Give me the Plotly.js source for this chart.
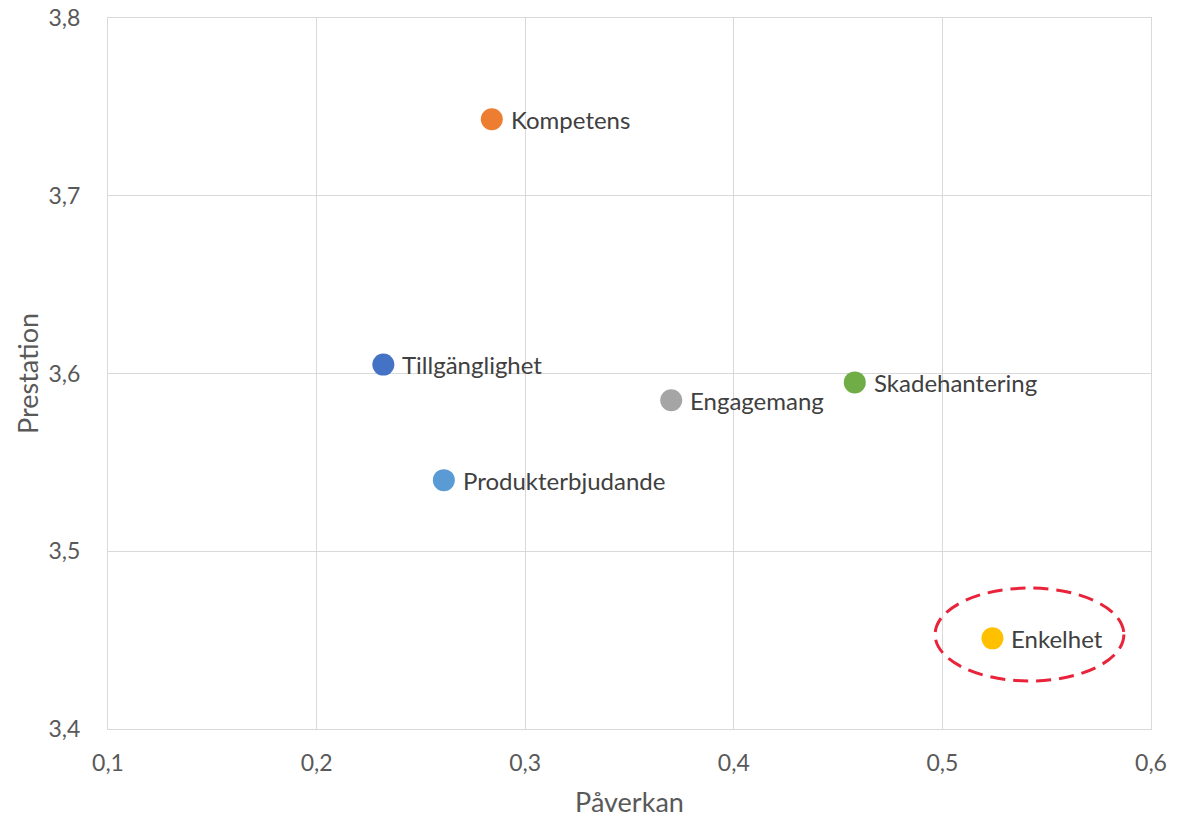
<!DOCTYPE html>
<html>
<head>
<meta charset="utf-8">
<script src="https://cdn.plot.ly/plotly-3.0.1.min.js"></script>
<style>html,body{margin:0;padding:0;background:#fff;}#chart{width:1184px;height:820px;}</style>
</head>
<body>
<div id="chart"></div>
<script>
const categories = ["Tillgänglighet", "Kompetens", "Engagemang", "Enkelhet", "Produkterbjudande", "Skadehantering"];
const paverkan = [0.232, 0.284, 0.370, 0.524, 0.261, 0.458];
const prestation = [3.605, 3.743, 3.585, 3.451, 3.540, 3.595];
const colors = ["#4472C4", "#ED7D31", "#A5A5A5", "#FFC000", "#5B9BD5", "#70AD47"];
const xTicks = [0.1, 0.2, 0.3, 0.4, 0.5, 0.6];
const yTicks = [3.4, 3.5, 3.6, 3.7, 3.8];
const highlightX = [0.4965, 0.587];
const highlightY = [3.427, 3.4793];

const fontFam = "Lato, 'Open Sans', 'Liberation Sans', sans-serif";

const trace = {
  type: "scatter",
  mode: "markers",
  x: paverkan,
  y: prestation,
  marker: {size: 22, color: colors},
  hoverinfo: "skip",
  cliponaxis: false
};

const labels = categories.map((c, i) => ({
  x: paverkan[i],
  y: prestation[i],
  xref: "x", yref: "y",
  text: c,
  showarrow: false,
  xanchor: "left",
  yanchor: "middle",
  xshift: 17,
  yshift: 0,
  font: {family: fontFam, size: 24, color: "#404040"}
}));

const layout = {
  width: 1184,
  height: 820,
  margin: {l: 108, r: 33, t: 18, b: 91},
  paper_bgcolor: "#ffffff",
  plot_bgcolor: "#ffffff",
  showlegend: false,
  font: {family: fontFam, color: "#595959"},
  xaxis: {
    range: [0.1, 0.6],
    tickvals: xTicks,
    ticktext: xTicks.map(v => v.toFixed(1).replace(".", ",")),
    tickfont: {size: 23, color: "#595959"},
    showgrid: true,
    gridcolor: "#d9d9d9",
    gridwidth: 1,
    zeroline: false,
    showline: true,
    linecolor: "#d9d9d9",
    mirror: true,
    ticks: "",
    ticklabelstandoff: 13,
    title: {text: "Påverkan", font: {size: 27, color: "#595959"}, standoff: 18}
  },
  yaxis: {
    range: [3.4, 3.8],
    tickvals: yTicks,
    ticktext: yTicks.map(v => v.toFixed(1).replace(".", ",")),
    tickfont: {size: 23, color: "#595959"},
    showgrid: true,
    gridcolor: "#d9d9d9",
    gridwidth: 1,
    zeroline: false,
    showline: true,
    linecolor: "#d9d9d9",
    mirror: true,
    ticks: "",
    ticklabelstandoff: 22,
    title: {text: "Prestation", font: {size: 27, color: "#595959"}, standoff: 2}
  },
  annotations: labels,
  shapes: [{
    type: "circle",
    xref: "x", yref: "y",
    x0: highlightX[0], x1: highlightX[1],
    y0: highlightY[0], y1: highlightY[1],
    line: {color: "#E8233A", width: 3, dash: "15px,8px"},
    fillcolor: "rgba(0,0,0,0)"
  }]
};

Plotly.newPlot("chart", [trace], layout, {displayModeBar: false, staticPlot: true});
</script>
</body>
</html>
